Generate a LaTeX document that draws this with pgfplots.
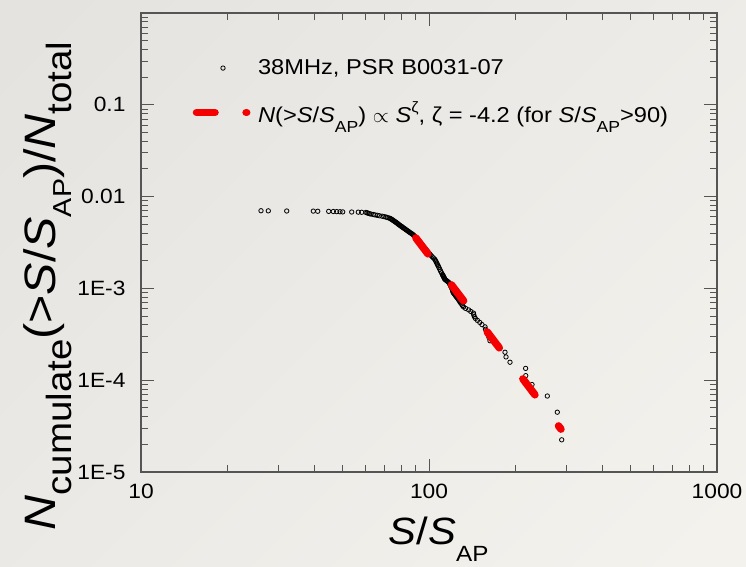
\documentclass[border=0pt]{standalone}
\usepackage{fontspec}
\setmainfont{Liberation Sans}[FakeStretch=1.1]
\usepackage{pgfplots}
\pgfplotsset{compat=1.18}
\usepackage{pgfplotstable}
\definecolor{bgA}{RGB}{229,227,224}
\definecolor{bgB}{RGB}{239,237,233}
\definecolor{bgC}{RGB}{244,242,237}
\definecolor{axgray}{RGB}{85,85,85}
\definecolor{fitred}{RGB}{245,0,0}

\pgfplotstableread{
x y
26.10 7.018e-3
27.67 6.996e-3
32.06 6.973e-3
39.66 6.951e-3
41.08 6.928e-3
44.84 6.906e-3
46.52 6.883e-3
47.80 6.861e-3
49.08 6.839e-3
50.15 6.816e-3
53.90 6.794e-3
56.81 6.771e-3
58.38 6.749e-3
60.38 6.726e-3
60.96 6.659e-3
61.50 6.592e-3
62.09 6.525e-3
62.84 6.457e-3
64.01 6.390e-3
64.94 6.323e-3
66.09 6.256e-3
67.26 6.188e-3
68.68 6.121e-3
69.79 6.054e-3
70.91 5.987e-3
71.65 5.919e-3
72.63 5.852e-3
73.33 5.785e-3
73.74 5.717e-3
74.21 5.650e-3
74.63 5.583e-3
74.99 5.516e-3
75.47 5.448e-3
75.89 5.381e-3
76.38 5.314e-3
76.75 5.247e-3
77.24 5.179e-3
77.67 5.112e-3
78.05 5.045e-3
78.48 4.978e-3
78.99 4.910e-3
79.37 4.843e-3
79.94 4.776e-3
80.45 4.709e-3
80.90 4.641e-3
81.42 4.574e-3
82.01 4.507e-3
82.54 4.439e-3
83.07 4.372e-3
83.67 4.305e-3
84.27 4.238e-3
84.88 4.170e-3
85.49 4.103e-3
86.11 4.036e-3
86.87 3.969e-3
87.57 3.901e-3
88.20 3.834e-3
88.62 3.767e-3
89.05 3.700e-3
89.55 3.632e-3
90.05 3.565e-3
90.49 3.498e-3
91.00 3.430e-3
91.51 3.363e-3
92.02 3.296e-3
92.54 3.229e-3
93.13 3.161e-3
93.65 3.094e-3
94.18 3.027e-3
94.78 2.960e-3
95.39 2.892e-3
96.01 2.825e-3
96.62 2.758e-3
97.24 2.691e-3
97.87 2.623e-3
98.57 2.556e-3
99.28 2.489e-3
100.00 2.422e-3
100.72 2.354e-3
101.53 2.287e-3
102.51 2.220e-3
103.50 2.152e-3
104.58 2.085e-3
105.25 2.018e-3
105.84 1.951e-3
106.43 1.883e-3
107.04 1.816e-3
107.71 1.749e-3
108.33 1.682e-3
109.02 1.614e-3
109.72 1.547e-3
110.51 1.480e-3
111.40 1.413e-3
111.70 1.390e-3
112.00 1.368e-3
112.30 1.345e-3
112.60 1.323e-3
112.90 1.300e-3
113.20 1.278e-3
113.50 1.256e-3
114.30 1.233e-3
115.20 1.211e-3
116.10 1.188e-3
117.00 1.166e-3
117.50 1.144e-3
118.00 1.121e-3
118.30 1.099e-3
118.70 1.076e-3
119.10 1.054e-3
119.50 1.031e-3
119.90 1.009e-3
120.30 9.866e-4
120.60 9.641e-4
120.90 9.417e-4
121.10 9.193e-4
121.40 8.969e-4
122.20 8.744e-4
123.00 8.520e-4
123.70 8.296e-4
124.50 8.072e-4
125.40 7.848e-4
126.30 7.623e-4
127.10 7.399e-4
127.90 7.175e-4
128.80 6.951e-4
129.80 6.727e-4
130.70 6.502e-4
131.80 6.278e-4
134.00 6.054e-4
137.30 5.830e-4
139.70 5.605e-4
142.70 5.381e-4
143.00 5.157e-4
143.70 4.933e-4
144.90 4.709e-4
147.30 4.484e-4
150.10 4.260e-4
152.70 4.036e-4
156.50 3.812e-4
157.10 3.587e-4
159.00 3.363e-4
160.20 3.139e-4
161.50 2.915e-4
162.80 2.691e-4
170.80 2.466e-4
176.40 2.242e-4
183.60 2.018e-4
185.10 1.794e-4
191.10 1.570e-4
216.50 1.345e-4
216.70 1.121e-4
227.90 8.969e-5
257.50 6.726e-5
278.90 4.484e-5
288.90 2.242e-5
}\pulsedata

\pgfplotstableread{
x y
90.0 3.55e-3
287.3 2.93e-5
}\fitdata

\begin{document}
\begin{tikzpicture}[x=1pt,y=1pt]
\useasboundingbox (0,0) rectangle (746,566);
\shade[top color=bgA, middle color=bgB, bottom color=bgC, shading angle=45] (-100,-100) rectangle (846,666);
\begin{axis}[
  at={(141pt,94pt)}, anchor=south west,
  scale only axis, width=576pt, height=459pt,
  xmode=log, ymode=log,
  xmin=10, xmax=1000, ymin=1e-5, ymax=1,
  clip marker paths=true,
  xtick={10,100,1000}, xticklabels={10,100,1000},
  minor xtick={20,30,40,50,60,70,80,90,200,300,400,500,600,700,800,900},
  ytick={1e-5,1e-4,1e-3,1e-2,1e-1}, yticklabels={1E-5,1E-4,1E-3,0.01,0.1},
  minor ytick={2e-5,3e-5,4e-5,5e-5,6e-5,7e-5,8e-5,9e-5,2e-4,3e-4,4e-4,5e-4,6e-4,7e-4,8e-4,9e-4,2e-3,3e-3,4e-3,5e-3,6e-3,7e-3,8e-3,9e-3,0.02,0.03,0.04,0.05,0.06,0.07,0.08,0.09,0.2,0.3,0.4,0.5,0.6,0.7,0.8,0.9},
  tick align=inside,
  major tick length=13pt, minor tick length=7pt,
  axis line style={draw=axgray, line width=1.3pt},
  every tick/.style={draw=axgray, line width=1pt},
  ticklabel style={font=\fontsize{20.7}{24}\selectfont, text=black},
  xticklabel style={yshift=-9pt},
  yticklabel style={xshift=-12pt},
  xlabel={\textit{S}/\textit{S}\raisebox{-17pt}{\fontsize{22}{22}\selectfont AP}},
  xlabel style={font=\fontsize{38}{40}\selectfont, at={(axis description cs:0.5167,-0.159)}, anchor=base},
  ylabel={\textit{N}\raisebox{-16pt}{\fontsize{35}{35}\selectfont cumulate}(>\textit{S}/\textit{S}\raisebox{-16pt}{\fontsize{26}{26}\selectfont AP})/\textit{N}\raisebox{-16pt}{\fontsize{35}{35}\selectfont total}},
  ylabel style={font=\fontsize{44}{46}\selectfont, at={(axis description cs:-0.1493,0.9455)}, anchor=base east},
  legend style={draw=none, fill=none, inner sep=0pt, outer sep=0pt, at={(axis description cs:0.0842,0.898)}, anchor=north west,
    font=\fontsize{21.5}{25}\selectfont, nodes={inner sep=0pt, outer sep=0pt}, column sep=7.6pt, row sep=25pt, cells={anchor=west}},
  legend cell align=left,
]
\addplot[only marks, mark=o, mark size=2.2pt, black, mark options={line width=0.8pt},
  legend image code/.code={\path[draw=none] (0pt,0pt) -- (60.6pt,0pt); \draw[black, line width=0.8pt] (33.5pt,0pt) circle[radius=2.2pt];}
] table {\pulsedata};
\addlegendentry{38MHz, PSR B0031-07}
\addplot[fitred, line width=7.5pt, line cap=round, dash pattern=on 20pt off 39pt,
  legend image code/.code={\path[draw=none] (0pt,0pt) -- (60.6pt,0pt); \draw[fitred, line width=7.5pt, line cap=round, solid] (7pt,0pt) -- (25.5pt,0pt); \draw[fitred, line width=7.5pt, line cap=round, solid] (56.6pt,0pt) -- (57.2pt,0pt);}
] table {\fitdata};
\addlegendentry{\textit{N}(>\textit{S}/\textit{S}\raisebox{-10pt}{\fontsize{16}{16}\selectfont AP}) $\propto$ \textit{S}\raisebox{10pt}{\fontsize{15}{15}\selectfont ζ}, ζ = -4.2 (for \textit{S}/\textit{S}\raisebox{-10pt}{\fontsize{16}{16}\selectfont AP}>90)}
\end{axis}
\end{tikzpicture}
\end{document}
